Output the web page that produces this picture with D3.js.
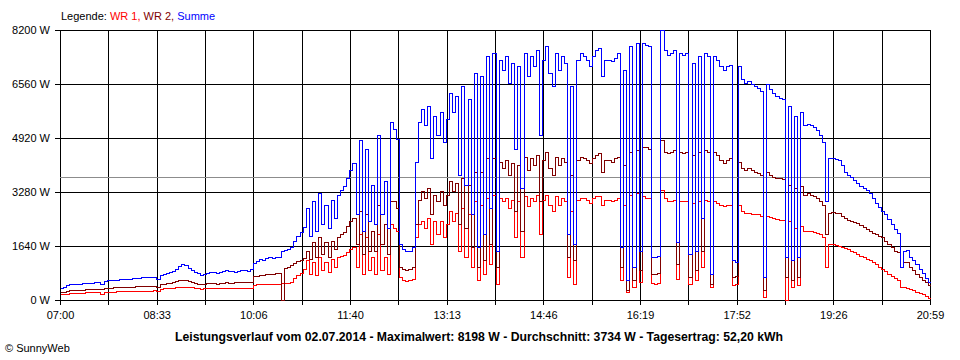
<!DOCTYPE html>
<html><head><meta charset="utf-8">
<script src="https://cdn.jsdelivr.net/npm/d3@7"></script>
<style>
body{margin:0;background:#fff}
svg{display:block}
text{font-family:"Liberation Sans",Arial,sans-serif;font-size:11px;fill:#000}
</style>
</head><body>
<svg id="c" width="960" height="360"></svg>
<script>
// ---- data ----
const startMinute = 420;   // 07:00
const endMinute = 1259;    // 20:59
const stepMinutes = 3;
const yTicks = [0, 1640, 3280, 4920, 6560, 8200];
const xTickLabels = ["07:00","08:33","10:06","11:40","13:13","14:46","16:19","17:52","19:26","20:59"];
const average = 3734;
const seriesNames = ["WR 1", "WR 2", "Summe"];
const titleText = "Leistungsverlauf vom 02.07.2014 - Maximalwert: 8198 W - Durchschnitt: 3734 W - Tagesertrag: 52,20 kWh";

const wr1 = [
170,180,190,200,210,215,220,225,230,230,
230,235,235,180,240,250,255,255,260,260,
260,265,265,270,270,275,275,280,280,285,
290,270,340,350,355,360,370,390,400,405,
400,390,380,370,350,345,350,355,360,360,
355,360,365,365,360,360,365,370,370,375,
375,375,470,480,490,480,490,500,495,500,
500,505,505,520,560,680,770,830,940,1200,
800,1150,750,1300,900,1150,850,1250,1000,1300,
1350,1380,1450,1550,1620,1000,2000,800,1900,900,
1300,800,2000,900,1300,800,2300,2200,2100,700,
620,580,600,640,1900,2300,2400,2200,2500,1700,
2400,2000,2400,1900,2300,2700,2400,2650,1500,2800,
1300,2600,1000,3000,600,2900,800,3100,1100,3200,
500,3100,3000,3100,2800,3050,1900,3000,1300,3150,
2850,3100,3000,3200,2000,3050,3200,2900,2700,3150,
2900,3100,3000,700,2700,500,3050,3100,3100,3050,
2950,3100,3150,3150,2900,3050,3050,3000,3050,3100,
600,2900,250,3200,400,3250,550,3150,3100,3100,
520,500,530,3340,3100,3000,3000,3050,650,3000,
3000,3000,500,2950,600,3000,1000,3050,3000,400,
3000,2950,2900,2850,2900,2900,450,480,2900,2700,
2650,2650,2600,2600,2600,2550,90,2550,2520,2480,
2450,2430,2420,0,2400,400,2200,450,2250,2100,
2100,2100,2080,2050,2000,1900,1000,1700,1700,1680,
1650,1620,1580,1540,1500,1450,1400,1350,1300,1250,
1200,1150,1080,1000,930,870,800,740,680,620,
400,400,370,330,300,250,220,180,120,70
];

const wr2 = [
235,250,270,290,300,300,300,310,320,330,
325,335,340,320,360,370,375,380,390,395,
400,400,410,410,415,420,425,430,440,440,
420,380,480,500,510,525,540,570,600,620,
600,570,550,530,500,480,500,505,510,505,
500,520,525,535,530,530,540,545,550,555,
555,560,720,740,760,750,780,800,800,810,
820,0,970,1000,1060,1120,1180,1230,1290,1500,
1250,1750,1300,1900,1400,1750,1300,1800,1550,1900,
2000,2080,2250,2400,2500,1700,2700,1400,2600,1500,
2100,1500,2900,1700,2300,1400,3000,3000,2800,1000,
950,920,930,1000,2300,3050,3300,3100,3400,2600,
3200,3000,3300,2900,3200,3600,3300,3550,2300,3700,
2200,3500,1600,3900,1000,3900,1200,4300,1700,4300,
1000,4200,4000,4250,3800,4150,2700,4100,2100,4350,
3950,4300,4100,4400,3000,4250,4500,4000,3800,4350,
4100,4300,4200,1300,3800,1200,4250,4350,4300,4250,
4150,4300,4400,4450,3900,4250,4250,4200,4300,4350,
1000,4100,300,4500,600,4550,900,4650,4650,4600,
800,800,820,4860,4500,4450,4500,4550,1100,4500,
4450,4500,700,4400,900,4500,1500,4550,4500,500,
4500,4400,4250,4150,4250,4300,700,720,4200,4000,
3950,4000,3950,3900,3850,3800,300,3900,3800,3750,
3700,3700,3680,700,3500,600,3400,700,3450,3200,
3250,3200,3150,3100,3000,2900,2000,2650,2670,2650,
2630,2550,2480,2420,2400,2380,2330,2280,2220,2160,
2100,2050,2000,1950,1900,1800,1700,1600,1500,1450,
1000,1150,1150,1000,900,800,700,620,540,450
];

const summe = [
375,400,460,490,480,500,500,510,520,530,
525,540,550,480,590,600,605,610,620,630,
640,630,650,665,660,680,690,700,700,710,
690,640,760,800,820,850,880,950,1040,1090,
1060,960,920,860,810,760,800,830,860,850,
820,860,880,900,880,870,860,890,910,900,
890,930,1120,1180,1240,1200,1280,1300,1290,1300,
1310,1500,1510,1560,1620,1800,1950,2060,2230,2800,
1950,3000,2100,3250,2300,2900,2200,3050,2500,3200,
3350,3450,3700,3950,4150,2600,4850,2100,4600,2400,
3500,2300,5000,2600,3600,2200,5400,5200,4900,1700,
1560,1480,1500,1620,4200,5400,5800,5300,5900,4300,
5600,5000,5700,4800,5500,6300,5700,6200,3800,6500,
3500,6100,2600,6900,1600,6800,2000,7400,2800,7500,
1500,7300,7000,7400,6600,7200,4600,7100,3400,7500,
6800,7400,7100,7600,5000,7300,7700,6900,6500,7500,
7000,7400,7200,2000,6500,1700,7300,7500,7400,7300,
7100,7400,7600,7650,6800,7300,7300,7250,7350,7500,
1600,7000,600,7700,1000,7800,1500,7800,7750,7700,
1320,1300,1350,8198,7600,7450,7500,7600,1750,7500,
7450,7500,1400,7200,1500,7400,2500,7500,7400,800,
7400,7300,7100,7000,7100,7150,1200,1150,7100,6700,
6600,6650,6550,6500,6450,6350,700,6550,6400,6300,
6200,6150,6100,1300,5900,1200,5600,1300,5700,5300,
5350,5300,5250,5150,5000,4800,3000,4300,4320,4280,
4250,4100,3900,3800,3750,3650,3550,3450,3400,3350,
3250,3100,2950,2820,2700,2600,2450,2300,2150,2050,
1000,1500,1520,1300,1200,1080,950,820,680,550
];

// ---- chart ----
const svg = d3.select("#c");
const x = d3.scaleLinear().domain([startMinute, endMinute]).range([60, 930]);
const y = d3.scaleLinear().domain([0, 8200]).range([300, 30]);
const px = v => Math.round(x(v)) + 0.5;
const py = v => Math.round(y(v)) + 0.5;

// grid
const vGrid = d3.range(19).map(k => startMinute + k * (endMinute - startMinute) / 18);
const grid = svg.append("g").attr("shape-rendering", "crispEdges");
grid.selectAll("line.v").data(vGrid).join("line")
  .attr("x1", d => px(d)).attr("x2", d => px(d))
  .attr("y1", y(8200)).attr("y2", y(0) + 5)
  .attr("stroke", "#000").attr("stroke-width", 1);
grid.selectAll("line.h").data(yTicks).join("line")
  .attr("y1", d => py(d)).attr("y2", d => py(d))
  .attr("x1", x(startMinute) - 5).attr("x2", x(endMinute))
  .attr("stroke", "#000").attr("stroke-width", 1);

// average line
svg.append("line")
  .attr("x1", x(startMinute)).attr("x2", x(endMinute))
  .attr("y1", py(average)).attr("y2", py(average))
  .attr("stroke", "#8c8c8c").attr("shape-rendering", "crispEdges");

// series
const times = d3.range(wr1.length).map(i => startMinute + i * stepMinutes);
function points(vals) {
  const p = vals.map((v, i) => [times[i], v]);
  p.push([endMinute, vals[vals.length - 1]]);
  return p;
}
const line = d3.line().x(d => px(d[0])).y(d => py(d[1])).curve(d3.curveStepAfter);
const series = [
  {name: seriesNames[0], values: wr1, color: "#ff0000"},
  {name: seriesNames[1], values: wr2, color: "#800000"},
  {name: seriesNames[2], values: summe, color: "#0000ff"}
];
svg.append("g").selectAll("path").data(series).join("path")
  .attr("d", d => line(points(d.values)))
  .attr("fill", "none").attr("stroke", d => d.color).attr("stroke-width", 1)
  .attr("shape-rendering", "crispEdges");

// axes
const yAxis = d3.axisLeft(y).tickValues(yTicks).tickFormat(d => d + " W").tickSize(0).tickPadding(10);
const gy = svg.append("g").attr("transform", "translate(60,0)").call(yAxis);
gy.select(".domain").remove();
gy.selectAll("text").attr("font-family", null).attr("font-size", null);

const xTickPos = xTickLabels.map((_, i) => startMinute + i * (endMinute - startMinute) / 9);
const xAxis = d3.axisBottom(x).tickValues(xTickPos).tickFormat((d, i) => xTickLabels[i]).tickSize(0).tickPadding(11);
const gx = svg.append("g").attr("transform", "translate(0,300)").call(xAxis);
gx.select(".domain").remove();
gx.selectAll("text").attr("font-family", null).attr("font-size", null);

// legend
const leg = svg.append("text").attr("x", 61).attr("y", 20);
leg.append("tspan").text("Legende: ");
series.forEach((s, i) => {
  leg.append("tspan").attr("fill", s.color).style("fill", s.color)
     .text(s.name + (i < series.length - 1 ? ", " : ""));
});

// title
svg.append("text").attr("x", 479).attr("y", 341).attr("text-anchor", "middle")
  .attr("font-weight", "bold").style("font-size", "12px")
  .attr("textLength", 608).attr("lengthAdjust", "spacingAndGlyphs")
  .text(titleText);

svg.append("text").attr("x", 5).attr("y", 352).text("© SunnyWeb");
</script>
</body></html>
